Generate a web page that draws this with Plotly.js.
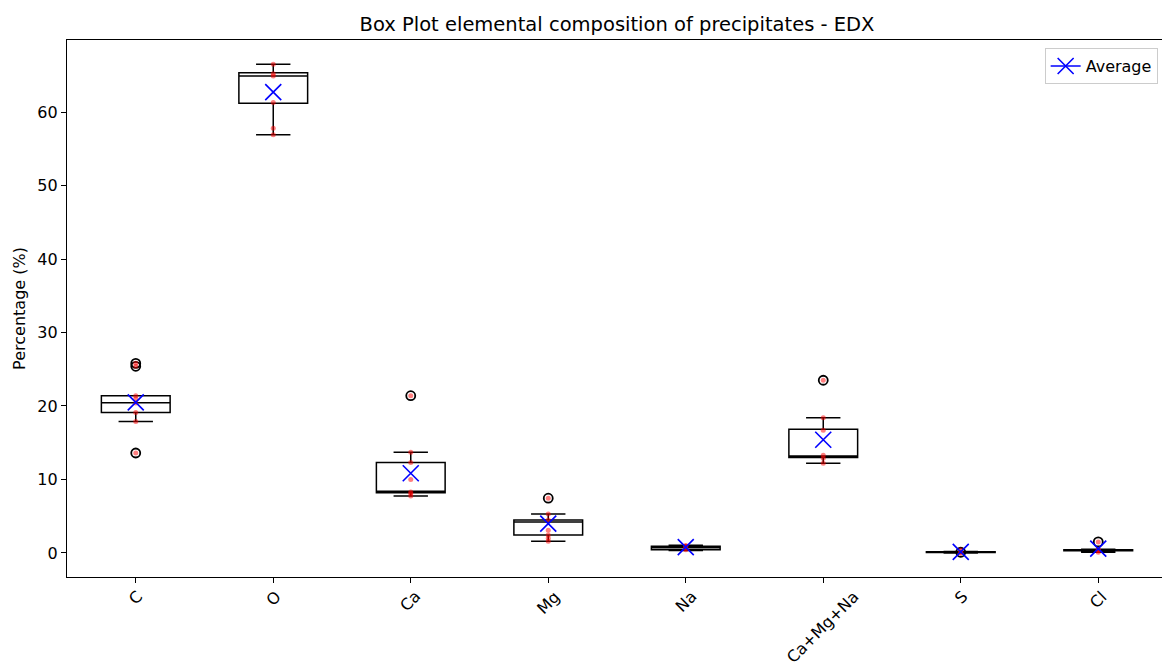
<!DOCTYPE html>
<html>
<head>
<meta charset="utf-8">
<script src="https://cdn.plot.ly/plotly-3.0.1.min.js"></script>
<style>
  html, body { margin: 0; padding: 0; overflow: hidden; background: #fff; }
  #chart { width: 1170px; height: 662px; }
</style>
</head>
<body>
<div id="chart"></div>
<script>
// ---- data ----
var categories = ["C", "O", "Ca", "Mg", "Na", "Ca+Mg+Na", "S", "Cl"];

// box statistics
var q1Values      = [19.1, 61.2, 8.2, 2.45, 0.45, 13.0, 0.05, 0.30];
var medianValues  = [20.45, 64.9, 8.4, 4.2, 0.70, 13.2, 0.10, 0.35];
var q3Values      = [21.4, 65.35, 12.3, 4.5, 0.90, 16.85, 0.15, 0.45];
var lowerWhisker  = [17.9, 56.9, 7.75, 1.6, 0.35, 12.2, 0.00, 0.10];
var upperWhisker  = [21.4, 66.5, 13.7, 5.3, 1.05, 18.4, 0.20, 0.50];
var meanValues    = [20.5, 62.7, 10.85, 4.0, 0.80, 15.4, 0.15, 0.60];

// outliers (fliers) per category
var outlierValues = [
  [13.6, 25.4, 25.8],
  [],
  [21.4],
  [7.45],
  [],
  [23.5],
  [0.1],
  [1.5]
];

// individual measurements per category
var pointValues = [
  [13.6, 17.9, 19.1, 20.4, 21.0, 21.4, 25.4, 25.8],
  [56.9, 57.8, 61.3, 64.9, 65.2, 66.5],
  [7.75, 8.1, 8.3, 10.0, 12.3, 13.7, 21.4],
  [1.6, 2.0, 2.45, 3.1, 4.5, 5.3, 7.45],
  [0.45, 0.6, 0.8, 0.9, 1.0],
  [12.2, 12.9, 13.3, 16.7, 18.4, 23.5],
  [0.0, 0.1, 0.15, 0.4],
  [0.1, 0.3, 0.4, 0.5, 1.5]
];

var yTicks = [0, 10, 20, 30, 40, 50, 60];

// ---- build traces ----
function flatten(groups) {
  var xs = [], ys = [];
  groups.forEach(function (vals, i) {
    vals.forEach(function (v) { xs.push(categories[i]); ys.push(v); });
  });
  return {x: xs, y: ys};
}

var FONT = "DejaVu Sans, Liberation Sans, sans-serif";
var TICK_SIZE = 16;

var boxTrace = {
  type: "box",
  x: categories,
  q1: q1Values,
  median: medianValues,
  q3: q3Values,
  lowerfence: lowerWhisker,
  upperfence: upperWhisker,
  boxpoints: false,
  width: 0.5,
  whiskerwidth: 0.5,
  line: {color: "black", width: 1.5},
  fillcolor: "rgba(0,0,0,0)",
  showlegend: false,
  hoverinfo: "skip"
};

var fl = flatten(outlierValues);
var flierTrace = {
  type: "scatter", mode: "markers",
  x: fl.x, y: fl.y,
  marker: {symbol: "circle-open", size: 9, color: "black", line: {width: 1.8, color: "black"}},
  showlegend: false, hoverinfo: "skip"
};

var pts = flatten(pointValues);
var pointTrace = {
  type: "scatter", mode: "markers",
  x: pts.x, y: pts.y,
  marker: {symbol: "circle", size: 5, color: "rgba(255,0,0,0.5)", line: {width: 0}},
  showlegend: false, hoverinfo: "skip"
};

var meanTrace = {
  type: "scatter", mode: "markers",
  x: categories, y: meanValues,
  marker: {symbol: "x-thin-open", size: 16, color: "blue", line: {width: 1.6, color: "blue"}},
  showlegend: false, hoverinfo: "skip"
};

// legend entry (marker + line like matplotlib legend)
var legendTrace = {
  type: "scatter", mode: "lines+markers",
  x: [null], y: [null],
  name: "Average",
  line: {color: "blue", width: 1.6},
  marker: {symbol: "x-thin-open", size: 16, color: "blue", line: {width: 1.6, color: "blue"}},
  showlegend: true, hoverinfo: "skip"
};

// rotated category labels (centred under each tick like matplotlib)
var labelAnnotations = categories.map(function (c) {
  return {
    x: c, xref: "x",
    y: 0, yref: "paper",
    yshift: -7,
    text: c,
    showarrow: false,
    textangle: -45,
    xanchor: "center", yanchor: "top",
    font: {family: FONT, size: TICK_SIZE, color: "black"}
  };
});

var layout = {
  width: 1170, height: 662,
  margin: {l: 67, r: 3, t: 40, b: 85},
  paper_bgcolor: "white", plot_bgcolor: "white",
  font: {family: FONT, size: TICK_SIZE, color: "black"},
  title: {
    text: "Box Plot elemental composition of precipitates - EDX",
    font: {family: FONT, size: 19.5, color: "black"},
    x: 0.5, xref: "paper", xanchor: "center",
    y: 1 - 24 / 662, yref: "container", yanchor: "middle"
  },
  xaxis: {
    type: "category",
    categoryorder: "array", categoryarray: categories,
    range: [-0.5, 7.5],
    showgrid: false, zeroline: false,
    showline: true, mirror: true, linecolor: "black", linewidth: 1.2,
    ticks: "outside", ticklen: 5, tickwidth: 1, tickcolor: "black",
    showticklabels: false
  },
  yaxis: {
    range: [-3.27, 69.8],
    tickvals: yTicks,
    ticktext: yTicks.map(String),
    showgrid: false, zeroline: false,
    showline: true, mirror: true, linecolor: "black", linewidth: 1.2,
    ticks: "outside", ticklen: 5, tickwidth: 1, tickcolor: "black",
    tickfont: {family: FONT, size: TICK_SIZE, color: "black"},
    title: {text: "Percentage (%)", font: {family: FONT, size: TICK_SIZE, color: "black"}, standoff: 7}
  },
  showlegend: true,
  legend: {
    x: 0.9915, xanchor: "right", xref: "paper",
    y: 0.985, yanchor: "top", yref: "paper",
    bgcolor: "rgba(255,255,255,0.8)",
    bordercolor: "#cccccc", borderwidth: 1,
    font: {family: FONT, size: TICK_SIZE, color: "black"},
    itemwidth: 30
  },
  annotations: labelAnnotations
};

Plotly.newPlot("chart", [boxTrace, flierTrace, pointTrace, meanTrace, legendTrace], layout, {staticPlot: true, displayModeBar: false});
</script>
</body>
</html>
